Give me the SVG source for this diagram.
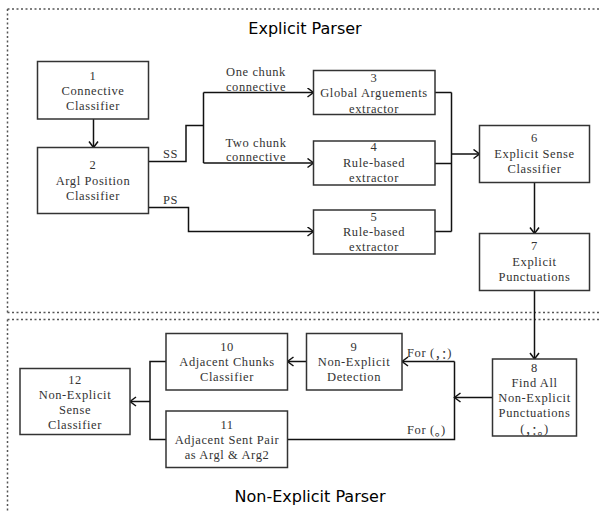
<svg xmlns="http://www.w3.org/2000/svg" width="600" height="513" viewBox="0 0 600 513">
<style>
.t{font-family:"Liberation Serif",serif;font-size:12.5px;letter-spacing:0.6px;fill:#333;text-anchor:middle;dominant-baseline:central}
.l{font-family:"Liberation Serif",serif;font-size:12.5px;letter-spacing:0.6px;fill:#333;dominant-baseline:central}
.cjk{font-family:"Noto Sans CJK SC",sans-serif;letter-spacing:0}
.box{fill:#fff;stroke:#333;stroke-width:1.5}
.title{font-family:"DejaVu Sans",sans-serif;font-size:16px;fill:#000;text-anchor:middle}
.c{fill:none;stroke:#111;stroke-width:1.5}
.dot{fill:none;stroke:#555;stroke-width:1.5;stroke-dasharray:2,2.5}
</style>
<defs>
<marker id="ah" markerUnits="userSpaceOnUse" markerWidth="10" markerHeight="12" refX="7" refY="5" orient="auto">
<path d="M1,0.5 L7,5 L1,9.5" fill="none" stroke="#111" stroke-width="1.5"/>
</marker>
</defs>
<g id="frames">
<path class="dot" d="M7.5,9 H600 M7.5,9 V312.5 M7.5,312.5 H600"/>
<path class="dot" d="M7.5,319.5 H600 M7.5,319.5 V513"/>
<text class="title" x="305" y="34">Explicit Parser</text>
<text class="title" x="310" y="502">Non-Explicit Parser</text>
</g>
<g id="connectors">
<path class="c" d="M93.5,119 V147.5" marker-end="url(#ah)"/>
<path class="c" d="M148.5,161.5 H186 V125.5 H203.5 M203.5,92.5 V163"/>
<path class="c" d="M203.5,92.5 H313.5" marker-end="url(#ah)"/>
<path class="c" d="M203.5,163 H313.5" marker-end="url(#ah)"/>
<path class="c" d="M148.5,207.5 H188.5 V231.5 H313.5" marker-end="url(#ah)"/>
<path class="c" d="M435,92.5 H451.5 M435,163.5 H451.5 M435,231.5 H451.5 M451.5,92.5 V231.5"/>
<path class="c" d="M451.5,154 H479.5" marker-end="url(#ah)"/>
<path class="c" d="M534.5,182.5 V233.5" marker-end="url(#ah)"/>
<path class="c" d="M534.5,290.5 V359" marker-end="url(#ah)"/>
<path class="c" d="M492.5,397.5 H454.5" marker-end="url(#ah)"/>
<path class="c" d="M454.5,361.5 V439.5 H287.5"/>
<path class="c" d="M454.5,361.5 H402" marker-end="url(#ah)"/>
<path class="c" d="M306.5,361.5 H287.5" marker-end="url(#ah)"/>
<path class="c" d="M166,361.5 H150 V439.5 H166"/>
<path class="c" d="M150,401.5 H130" marker-end="url(#ah)"/>
<text class="t" x="256" y="71.5">One chunk</text>
<text class="t" x="256" y="86.5">connective</text>
<text class="t" x="256" y="142.5">Two chunk</text>
<text class="t" x="256" y="157">connective</text>
<text class="l" x="163" y="154">SS</text>
<text class="l" x="163" y="200">PS</text>
<text class="l" x="407" y="352.5">For (<tspan class="cjk">，：</tspan>)</text>
<text class="l" x="407" y="429.5">For (<tspan class="cjk">。</tspan>)</text>
</g>
<g id="n1"><rect class="box" x="37.5" y="61.5" width="111" height="57.5"/>
<text class="t" x="93" y="76">1</text><text class="t" x="93" y="91">Connective</text><text class="t" x="93" y="106">Classifier</text></g>
<g id="n2"><rect class="box" x="37.5" y="147.5" width="111" height="66"/>
<text class="t" x="93" y="164.5">2</text><text class="t" x="93" y="181">Argl Position</text><text class="t" x="93" y="196">Classifier</text></g>
<g id="n3"><rect class="box" x="313.5" y="70.5" width="121.5" height="44"/>
<text class="t" x="374" y="77.5">3</text><text class="t" x="374" y="93">Global Arguements</text><text class="t" x="374" y="108.5">extractor</text></g>
<g id="n4"><rect class="box" x="313.5" y="141" width="121.5" height="44"/>
<text class="t" x="374" y="147">4</text><text class="t" x="374" y="163">Rule-based</text><text class="t" x="374" y="178">extractor</text></g>
<g id="n5"><rect class="box" x="313.5" y="210" width="121.5" height="44"/>
<text class="t" x="374" y="217">5</text><text class="t" x="374" y="232">Rule-based</text><text class="t" x="374" y="247">extractor</text></g>
<g id="n6"><rect class="box" x="479.5" y="125.5" width="110" height="57"/>
<text class="t" x="534.5" y="137.5">6</text><text class="t" x="534.5" y="154">Explicit Sense</text><text class="t" x="534.5" y="168.5">Classifier</text></g>
<g id="n7"><rect class="box" x="479.5" y="233.5" width="110" height="57"/>
<text class="t" x="534.5" y="246">7</text><text class="t" x="534.5" y="262">Explicit</text><text class="t" x="534.5" y="277">Punctuations</text></g>
<g id="n8"><rect class="box" x="492.5" y="359" width="84" height="77"/>
<text class="t" x="534.5" y="368">8</text><text class="t" x="534.5" y="382.5">Find All</text><text class="t" x="534.5" y="398">Non-Explicit</text><text class="t" x="534.5" y="413">Punctuations</text><text class="t" x="534.5" y="428.5">(<tspan class="cjk">，：。</tspan>)</text></g>
<g id="n9"><rect class="box" x="306.5" y="333.5" width="95.5" height="56.5"/>
<text class="t" x="354" y="347">9</text><text class="t" x="354" y="362">Non-Explicit</text><text class="t" x="354" y="377">Detection</text></g>
<g id="n10"><rect class="box" x="166" y="333.5" width="121.5" height="56.5"/>
<text class="t" x="227" y="347">10</text><text class="t" x="227" y="362">Adjacent Chunks</text><text class="t" x="227" y="377">Classifier</text></g>
<g id="n11"><rect class="box" x="166" y="411" width="121.5" height="56.5"/>
<text class="t" x="227" y="425">11</text><text class="t" x="227" y="440">Adjacent Sent Pair</text><text class="t" x="227" y="455">as Argl &amp; Arg2</text></g>
<g id="n12"><rect class="box" x="20" y="368.5" width="110" height="66"/>
<text class="t" x="75" y="380">12</text><text class="t" x="75" y="395">Non-Explicit</text><text class="t" x="75" y="410">Sense</text><text class="t" x="75" y="424.5">Classifier</text></g>
</svg>
